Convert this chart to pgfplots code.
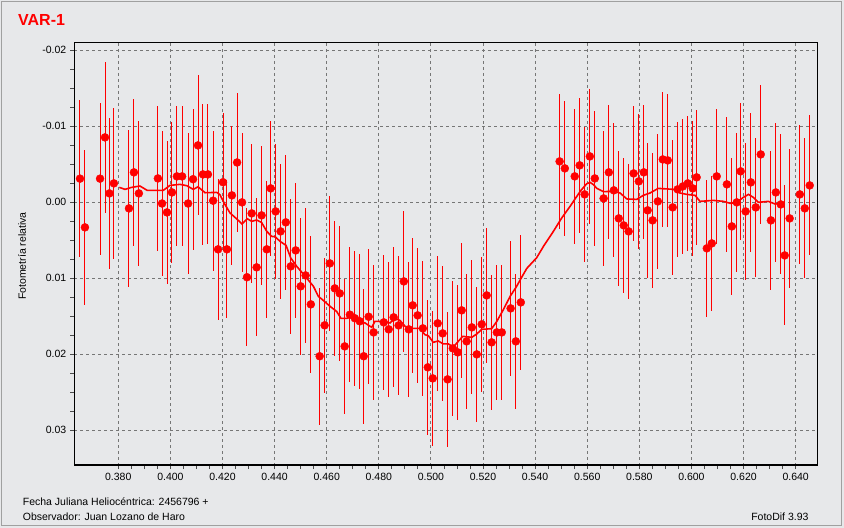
\documentclass[border=0pt]{standalone}
\usepackage{pgfplots}
\usepackage{pgfplotstable}
\pgfplotsset{compat=1.18}
\usepackage{fontspec}
\setmainfont{Liberation Sans}
\definecolor{bg}{RGB}{231,232,234}
\definecolor{gridc}{RGB}{118,118,118}
\definecolor{brd}{RGB}{160,160,160}

\pgfplotstableread{
x y e
0.3653 -0.00307 0.0103
0.3672 0.00334 0.0102
0.3730 -0.00307 0.0100
0.3749 -0.00850 0.0099
0.3766 -0.00113 0.0099
0.3783 -0.00245 0.0099
0.3841 0.00084 0.0103
0.3860 -0.00390 0.0097
0.3879 -0.00113 0.0095
0.3952 -0.00310 0.0095
0.3968 0.00020 0.0095
0.3987 0.00137 0.0094
0.4006 -0.00126 0.0093
0.4025 -0.00337 0.0092
0.4045 -0.00337 0.0092
0.4068 0.00020 0.0093
0.4087 -0.00300 0.0093
0.4106 -0.00745 0.0092
0.4125 -0.00363 0.0093
0.4144 -0.00363 0.0092
0.4164 -0.00017 0.0092
0.4183 0.00623 0.0093
0.4202 -0.00260 0.0091
0.4217 0.00623 0.0091
0.4236 -0.00087 0.0091
0.4256 -0.00520 0.0091
0.4275 0.00005 0.0091
0.4294 0.00990 0.0091
0.4312 0.00150 0.0091
0.4331 0.00860 0.0091
0.4350 0.00176 0.0091
0.4370 0.00623 0.0090
0.4385 -0.00179 0.0089
0.4404 0.00124 0.0089
0.4423 0.00387 0.0089
0.4443 0.00268 0.0089
0.4462 0.00847 0.0089
0.4481 0.00637 0.0089
0.4500 0.01110 0.0090
0.4519 0.00966 0.0089
0.4539 0.01347 0.0090
0.4573 0.02030 0.0090
0.4592 0.01623 0.0089
0.4612 0.00808 0.0089
0.4631 0.01137 0.0089
0.4650 0.01203 0.0089
0.4669 0.01900 0.0089
0.4689 0.01483 0.0089
0.4708 0.01530 0.0089
0.4727 0.01570 0.0089
0.4742 0.02030 0.0089
0.4761 0.01510 0.0089
0.4780 0.01716 0.0089
0.4819 0.01584 0.0089
0.4838 0.01676 0.0089
0.4857 0.01518 0.0092
0.4876 0.01624 0.0091
0.4896 0.01045 0.0093
0.4915 0.01676 0.0089
0.4930 0.01360 0.0089
0.4949 0.01492 0.0089
0.4969 0.01663 0.0089
0.4988 0.02176 0.0089
0.5007 0.02321 0.0089
0.5026 0.01597 0.0089
0.5045 0.01729 0.0089
0.5064 0.02334 0.0089
0.5084 0.01926 0.0089
0.5103 0.01979 0.0089
0.5118 0.01426 0.0089
0.5137 0.01834 0.0089
0.5157 0.01650 0.0088
0.5176 0.02005 0.0089
0.5195 0.01610 0.0089
0.5214 0.01229 0.0089
0.5233 0.01847 0.0089
0.5253 0.01716 0.0089
0.5272 0.01716 0.0089
0.5306 0.01400 0.0089
0.5326 0.01834 0.0089
0.5345 0.01321 0.0089
0.5494 -0.00534 0.0089
0.5514 -0.00442 0.0089
0.5552 -0.00337 0.0089
0.5571 -0.00482 0.0089
0.5590 -0.00100 0.0089
0.5610 -0.00600 0.0089
0.5629 -0.00310 0.0089
0.5663 -0.00047 0.0089
0.5683 -0.00390 0.0088
0.5702 -0.00153 0.0088
0.5721 0.00216 0.0089
0.5740 0.00308 0.0089
0.5759 0.00387 0.0089
0.5778 -0.00376 0.0089
0.5798 -0.00271 0.0089
0.5817 -0.00390 0.0088
0.5832 0.00110 0.0089
0.5851 0.00242 0.0089
0.5871 -0.00008 0.0089
0.5890 -0.00560 0.0089
0.5909 -0.00547 0.0088
0.5928 0.00071 0.0089
0.5947 -0.00166 0.0089
0.5967 -0.00205 0.0089
0.5986 -0.00245 0.0089
0.6005 -0.00179 0.0089
0.6020 -0.00324 0.0089
0.6059 0.00610 0.0090
0.6078 0.00545 0.0089
0.6097 -0.00337 0.0089
0.6136 -0.00232 0.0089
0.6155 0.00321 0.0090
0.6174 0.00005 0.0091
0.6189 -0.00403 0.0090
0.6208 0.00124 0.0090
0.6228 -0.00258 0.0091
0.6247 0.00071 0.0091
0.6266 -0.00626 0.0091
0.6305 0.00242 0.0091
0.6324 -0.00126 0.0091
0.6343 0.00032 0.0092
0.6358 0.00703 0.0092
0.6377 0.00216 0.0091
0.6416 -0.00100 0.0091
0.6435 0.00084 0.0092
0.6454 -0.00218 0.0092
}\pts

\pgfplotstableread{
x y
0.3804 -0.00192
0.3826 -0.00166
0.3851 -0.00192
0.3883 -0.00210
0.3911 -0.00153
0.3973 -0.00153
0.3998 -0.00218
0.4037 -0.00232
0.4063 -0.00214
0.4088 -0.00166
0.4106 -0.00200
0.4133 -0.00122
0.4178 -0.00126
0.4190 -0.00096
0.4210 0.00036
0.4229 0.00145
0.4255 0.00224
0.4275 0.00290
0.4295 0.00220
0.4312 0.00255
0.4331 0.00237
0.4350 0.00270
0.4370 0.00387
0.4389 0.00453
0.4402 0.00457
0.4421 0.00518
0.4444 0.00571
0.4462 0.00737
0.4485 0.00847
0.4523 0.01000
0.4549 0.01110
0.4568 0.01242
0.4587 0.01295
0.4613 0.01374
0.4638 0.01440
0.4655 0.01532
0.4677 0.01532
0.4696 0.01505
0.4721 0.01571
0.4747 0.01592
0.4773 0.01650
0.4785 0.01571
0.4817 0.01571
0.4843 0.01592
0.4862 0.01532
0.4881 0.01558
0.4901 0.01637
0.4926 0.01663
0.4958 0.01663
0.4977 0.01746
0.4990 0.01760
0.5009 0.01847
0.5028 0.01829
0.5048 0.01868
0.5067 0.01868
0.5086 0.01908
0.5105 0.01834
0.5122 0.01768
0.5157 0.01781
0.5176 0.01737
0.5195 0.01676
0.5233 0.01667
0.5253 0.01571
0.5278 0.01417
0.5304 0.01242
0.5329 0.01110
0.5349 0.00987
0.5368 0.00874
0.5406 0.00733
0.5432 0.00584
0.5470 0.00387
0.5502 0.00211
0.5534 0.00058
0.5560 -0.00074
0.5576 -0.00153
0.5598 -0.00240
0.5611 -0.00258
0.5624 -0.00228
0.5637 -0.00179
0.5662 -0.00136
0.5701 -0.00140
0.5726 -0.00118
0.5752 -0.00040
0.5790 -0.00034
0.5815 -0.00087
0.5841 -0.00118
0.5873 -0.00179
0.5931 -0.00166
0.5956 -0.00118
0.5982 -0.00100
0.6014 -0.00087
0.6033 -0.00008
0.6084 -0.00021
0.6123 -0.00008
0.6149 0.00018
0.6174 0.00005
0.6199 -0.00060
0.6219 -0.00100
0.6238 -0.00060
0.6257 0.00005
0.6295 -0.00008
0.6321 0.00026
0.6353 0.00018
}\smooth

\begin{document}
\fontsize{10.5bp}{12.5bp}\selectfont
\begin{tikzpicture}
\fill[bg] (0,0) rectangle (844bp,528bp);
\useasboundingbox (0,0) rectangle (844bp,528bp);
\draw[brd, line width=1.5bp] (1.5bp,2.5bp) rectangle (841.5bp,526.5bp);
\begin{axis}[
  at={(74bp,63bp)}, anchor=south west,
  scale only axis, width=743bp, height=422bp,
  xmin=0.3630, xmax=0.6482,
  ymin=-0.02092, ymax=0.03461,
  y dir=reverse,
  axis background/.style={fill=bg},
  axis line style={line width=1bp, black},
  xtick={0.38,0.40,...,0.641},
  ytick={-0.02,-0.01,0,0.01,0.02,0.03},
  minor x tick num=3, minor y tick num=3,
  tick align=outside, xtick pos=bottom, ytick pos=left,
  major tick length=4bp, minor tick length=4bp,
  tick style={black!70, line width=0.8bp},
  grid=major,
  major grid style={gridc, dash pattern=on 3bp off 3bp, line width=0.9bp},
  /pgf/number format/assume math mode=true,
  xticklabel style={/pgf/number format/.cd, fixed, fixed zerofill, precision=3},
  yticklabel style={/pgf/number format/.cd, fixed, fixed zerofill, precision=2},
  scaled x ticks=false, scaled y ticks=false,
  ticklabel style={font=\fontsize{10.5bp}{12.5bp}\selectfont},
  clip=true,
]
\addplot[red, line width=1.6bp, no markers] table[x=x,y=y] {\smooth};
\addplot[red, only marks, mark=*, mark size=4bp, mark options={fill=red, draw=red},
  error bars/.cd, y dir=both, y explicit, error mark=none,
  error bar style={red, line width=1bp}]
  table[x=x, y=y, y error=e] {\pts};
\draw[black, line width=2.2bp] (axis cs:0.3630,-0.02092) -- (axis cs:0.3630,0.03461) -- (axis cs:0.6482,0.03461);
\end{axis}
\node[anchor=base west, text=red, font=\bfseries\fontsize{16bp}{18bp}\selectfont, inner sep=0pt] at (18bp,502bp) {VAR-1};
\node[rotate=90, inner sep=0pt] at (22bp,272bp) {Fotometría relativa};
\node[anchor=base west, inner sep=0pt] at (22.7bp,23bp) {Fecha Juliana Heliocéntrica: 2456796 +};
\node[anchor=base west, inner sep=0pt] at (22.7bp,8bp) {Observador: Juan Lozano de Haro};
\node[anchor=base east, inner sep=0pt] at (808.7bp,8bp) {FotoDif 3.93};
\end{tikzpicture}
\end{document}
